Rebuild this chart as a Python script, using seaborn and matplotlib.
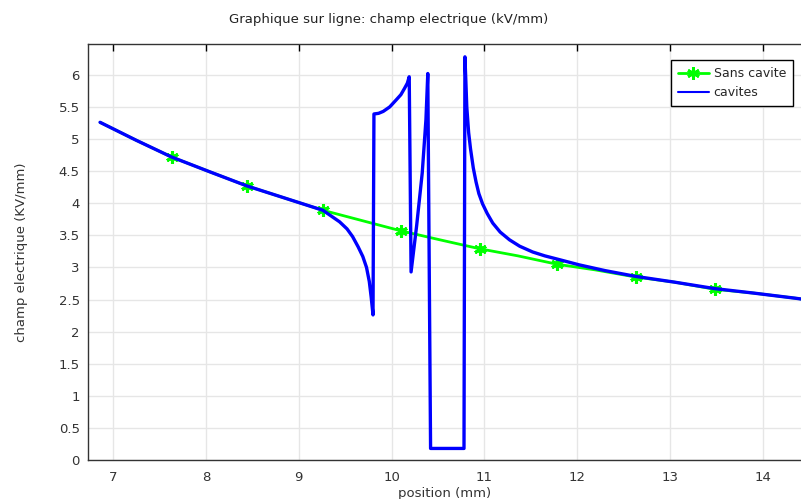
import pandas as pd
import seaborn as sns
from matplotlib import pyplot as plt
from matplotlib.lines import Line2D

# sans cavite (green)
x_sans = [6.86, 7.25, 7.63, 8.04, 8.44, 8.85, 9.26, 9.68, 10.10, 10.52,
          10.95, 11.36, 11.78, 12.20, 12.63, 13.05, 13.48, 13.90, 14.35, 14.45]
y_sans = [5.26, 4.98, 4.72, 4.49, 4.27, 4.08, 3.89, 3.73, 3.57, 3.43,
          3.29, 3.18, 3.05, 2.96, 2.85, 2.77, 2.66, 2.60, 2.52, 2.50]
# positions carrying the asterisk markers
x_marks = [7.63, 8.44, 9.26, 10.10, 10.95, 11.78, 12.63, 13.48]

# cavites (blue)
x_cav = [6.86, 7.25, 7.63, 8.04, 8.44, 8.85, 9.26, 9.35, 9.44, 9.52, 9.58,
         9.64, 9.69, 9.73, 9.76, 9.78, 9.80,
         9.81, 9.86, 9.91, 9.98, 10.05, 10.10, 10.14, 10.17, 10.19,
         10.21, 10.27, 10.33, 10.37, 10.39,
         10.42, 10.78,
         10.79, 10.80, 10.81, 10.83, 10.85, 10.88, 10.91, 10.94, 10.98, 11.03,
         11.09, 11.17, 11.27, 11.38, 11.52, 11.65, 11.81,
         12.02, 12.30, 12.63, 13.05, 13.48, 13.90, 14.35, 14.45]
y_cav = [5.26, 4.98, 4.72, 4.49, 4.27, 4.08, 3.89, 3.80, 3.71, 3.60, 3.48,
         3.32, 3.17, 3.00, 2.78, 2.54, 2.26,
         5.39, 5.40, 5.43, 5.50, 5.61, 5.69, 5.79, 5.87, 5.97,
         2.93, 3.65, 4.47, 5.30, 6.02,
         0.18, 0.18,
         6.28, 5.90, 5.50, 5.10, 4.85, 4.55, 4.33, 4.15, 3.99, 3.84,
         3.69, 3.55, 3.43, 3.33, 3.24, 3.18, 3.12,
         3.04, 2.95, 2.86, 2.77, 2.67, 2.60, 2.52, 2.50]

df_sans = pd.DataFrame({"position": x_sans, "champ": y_sans})
df_cav = pd.DataFrame({"position": x_cav, "champ": y_cav})
df_mark = df_sans[df_sans["position"].isin(x_marks)]

sns.set_style("white")
plt.rcParams["font.family"] = ["DejaVu Sans"]
plt.rcParams["font.size"] = 9

fig = plt.figure(figsize=(8.01, 4.99), dpi=100)
ax = fig.add_axes([88 / 801, 39 / 499, 1 - 88 / 801, 416 / 499])

green = (0.0, 1.0, 0.0)
blue = (0.0, 0.0, 1.0)

sns.lineplot(data=df_sans, x="position", y="champ", ax=ax, color=green,
             lw=2.0, sort=False, estimator=None, zorder=2)
ax.plot(df_mark["position"], df_mark["champ"], ls="none", marker=(6, 2, 0),
        ms=9, mew=2.2, color=green, zorder=2.5)
sns.lineplot(data=df_cav, x="position", y="champ", ax=ax, color=blue,
             lw=2.4, sort=False, estimator=None, zorder=3)

ax.set_xlim(6.73, 14.41)
ax.set_ylim(0, 6.48)
ax.set_xticks(range(7, 15))
ax.set_yticks([i * 0.5 for i in range(13)])
ax.set_yticklabels(["0", "0.5", "1", "1.5", "2", "2.5", "3", "3.5", "4",
                    "4.5", "5", "5.5", "6"])
ax.grid(True, color="#e6e6e6", lw=1)
ax.tick_params(direction="in", top=True, length=5, width=1, colors="black",
               labelcolor="#333333", labelsize=9.5, pad=8)
ax.tick_params(axis="y", pad=6)
ax.spines["right"].set_visible(False)
for s in ["left", "bottom", "top"]:
    ax.spines[s].set_color("#333333")
    ax.spines[s].set_linewidth(1)

ax.set_xlabel("position (mm)", fontsize=9.5, color="#333333", labelpad=2)
ax.set_ylabel("champ electrique (KV/mm)", fontsize=9.5, color="#333333", labelpad=22)
fig.text(389 / 801, 1 - 19 / 499, "Graphique sur ligne: champ electrique (kV/mm)",
         ha="center", va="center", fontsize=9.5, color="#222222")

handles = [Line2D([], [], color=green, lw=2.0, marker=(6, 2, 0), ms=9, mew=2),
           Line2D([], [], color=blue, lw=1.5)]
leg = ax.legend(handles, ["Sans cavite", "cavites"], loc="upper right",
                bbox_to_anchor=(1 - 8 / 713, 1 - 16 / 416),
                bbox_transform=ax.transAxes, borderaxespad=0,
                fancybox=False, framealpha=1, edgecolor="black",
                fontsize=9, handlelength=2.5, handletextpad=0.4,
                borderpad=0.55, labelspacing=0.5)
leg.get_frame().set_linewidth(1)

fig.savefig("out.png", dpi=100)
